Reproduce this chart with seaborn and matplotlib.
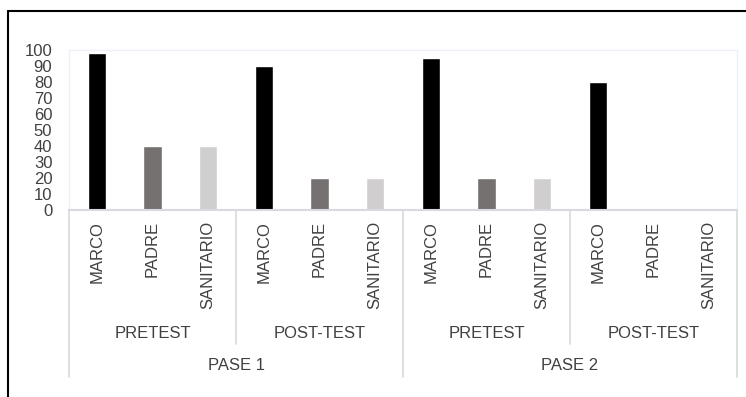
import matplotlib
matplotlib.use("Agg")
import matplotlib.pyplot as plt
import matplotlib.transforms as mtransforms
import seaborn as sns
import pandas as pd

# Data
phases = ["PASE 1", "PASE 2"]
stages = ["PRETEST", "POST-TEST"]
roles = ["MARCO", "PADRE", "SANITARIO"]
values = [98, 40, 40, 90, 20, 20, 95, 20, 20, 80, 0, 0]
yticks = [0, 10, 20, 30, 40, 50, 60, 70, 80, 90, 100]

role_colors = {"MARCO": "#000000", "PADRE": "#767171", "SANITARIO": "#d0cece"}
text_color = "#404040"
rule_color = "#d9d9d9"

rows = []
for p in phases:
    for s in stages:
        for r in roles:
            rows.append({"key": f"{p}|{s}|{r}", "phase": p, "stage": s, "role": r})
df = pd.DataFrame(rows)
df["value"] = values

sns.set_style("white")
plt.rcParams["font.family"] = ["Liberation Sans", "DejaVu Sans"]
plt.rcParams["font.stretch"] = "normal"
plt.rcParams["font.size"] = 12

W, H = 746, 397
fig = plt.figure(figsize=(W / 100, H / 100), dpi=100)
ax = fig.add_axes([69 / W, 1 - 210 / H, (737 - 69) / W, (210 - 50) / H])

sns.barplot(data=df, x="key", y="value", hue="role", dodge=False,
            palette=role_colors, width=0.33, ax=ax, legend=False,
            order=df["key"].tolist(), hue_order=roles, saturation=1)

ax.set_xlim(-0.5, len(df) - 0.5)
ax.set_ylim(0, 100)
ax.set_yticks(yticks)
ax.set_yticklabels([str(v) for v in yticks], color=text_color)
ax.tick_params(axis="y", length=0, pad=12)
ax.tick_params(axis="x", length=0, pad=8)
ax.set_xticks(range(len(df)))
ax.set_xticklabels(df["role"], rotation=90, color=text_color, va="top")
ax.set_xlabel("")
ax.set_ylabel("")

for side in ["top", "right", "left"]:
    ax.spines[side].set_color("#eef0f8")
    ax.spines[side].set_linewidth(1.0)
ax.spines["bottom"].set_color("#d9d9e3")
ax.spines["bottom"].set_linewidth(1.5)

# Multi-level category axis below the bars
tr = mtransforms.blended_transform_factory(ax.transData, fig.transFigure)

def fy(py):
    return 1 - py / H

n_roles = len(roles)
n_stage_groups = len(phases) * len(stages)
for g in range(n_stage_groups + 1):
    x = g * n_roles - 0.5
    outer = g % len(stages) == 0
    bottom = 377 if outer else 344
    fig.add_artist(plt.Line2D([x, x], [fy(210), fy(bottom)], transform=tr,
                              color=rule_color, lw=1.2))

for i, (p, s) in enumerate([(p, s) for p in phases for s in stages]):
    cx = i * n_roles + (n_roles - 1) / 2
    fig.text(cx, fy(333), s, transform=tr, ha="center", va="center", color=text_color)

for j, p in enumerate(phases):
    cx = j * n_roles * len(stages) + (n_roles * len(stages) - 1) / 2
    fig.text(cx, fy(366), p, transform=tr, ha="center", va="center", color=text_color)

# Outer frame lines (top and left)
fig.add_artist(plt.Line2D([8 / W, 1], [fy(11), fy(11)], transform=fig.transFigure,
                          color="black", lw=1.5))
fig.add_artist(plt.Line2D([8 / W, 8 / W], [fy(11), 0], transform=fig.transFigure,
                          color="black", lw=1.5))

fig.savefig("out.png", dpi=100)
